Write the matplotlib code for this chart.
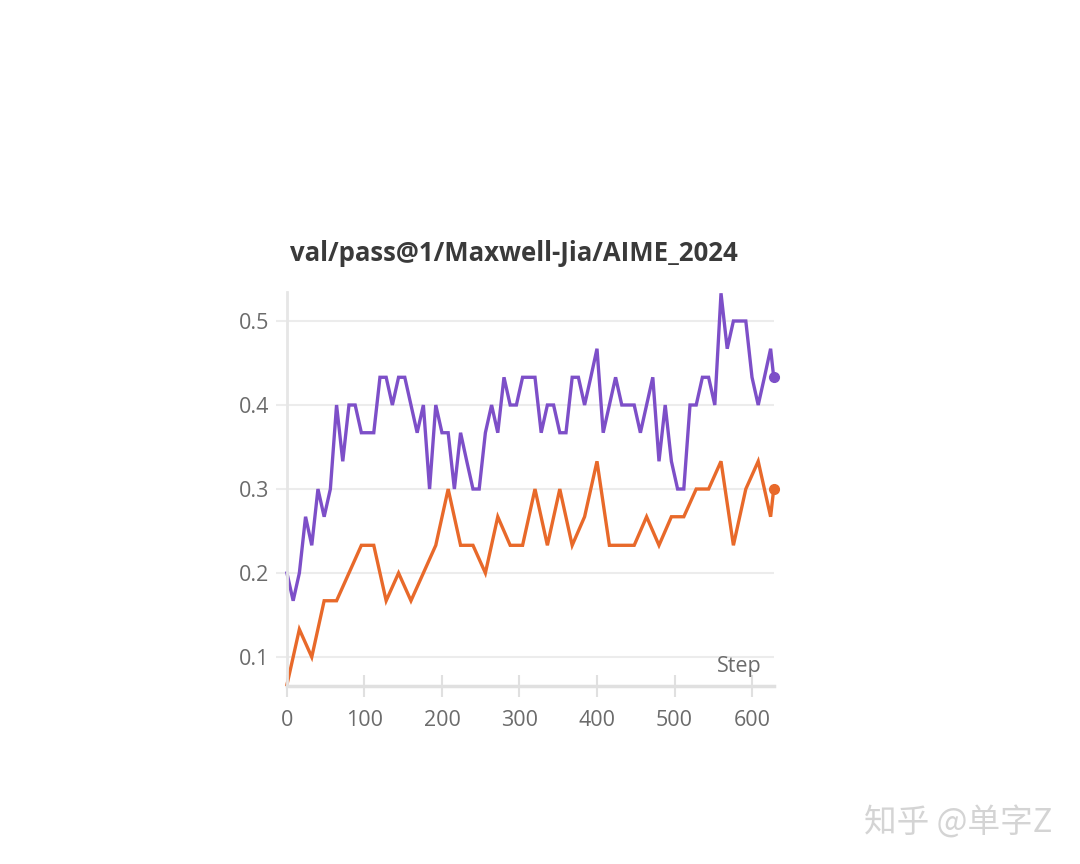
import matplotlib
matplotlib.use("Agg")
import matplotlib.pyplot as plt
import numpy as np

# purple run: eval every 8 steps, plus the last step
purple_steps = list(range(0, 625, 8)) + [628]
purple_vals = [0.200, 0.167, 0.200, 0.267, 0.233, 0.300, 0.267, 0.300, 0.400, 0.333,
               0.400, 0.400, 0.367, 0.367, 0.367, 0.433, 0.433, 0.400, 0.433, 0.433,
               0.400, 0.367, 0.400, 0.300, 0.400, 0.367, 0.367, 0.300, 0.367, 0.333,
               0.300, 0.300, 0.367, 0.400, 0.367, 0.433, 0.400, 0.400, 0.433, 0.433,
               0.433, 0.367, 0.400, 0.400, 0.367, 0.367, 0.433, 0.433, 0.400, 0.433,
               0.467, 0.367, 0.400, 0.433, 0.400, 0.400, 0.400, 0.367, 0.400, 0.433,
               0.333, 0.400, 0.333, 0.300, 0.300, 0.400, 0.400, 0.433, 0.433, 0.400,
               0.533, 0.467, 0.500, 0.500, 0.500, 0.433, 0.400, 0.433, 0.467, 0.433]

# orange run: eval every 16 steps, plus the last step
orange_steps = list(range(0, 625, 16)) + [628]
orange_vals = [0.067, 0.133, 0.100, 0.167, 0.167, 0.200, 0.233, 0.233, 0.167, 0.200,
               0.167, 0.200, 0.233, 0.300, 0.233, 0.233, 0.200, 0.267, 0.233, 0.233,
               0.300, 0.233, 0.300, 0.233, 0.267, 0.333, 0.233, 0.233, 0.233, 0.267,
               0.233, 0.267, 0.267, 0.300, 0.300, 0.333, 0.233, 0.300, 0.333, 0.267,
               0.300]

x_ticks = [0, 100, 200, 300, 400, 500, 600]
y_ticks = [0.1, 0.2, 0.3, 0.4, 0.5]

purple = "#7d4fc8"
orange = "#e8692a"
grid_c = "#ececec"
label_c = "#6b6b6b"

plt.rcParams['font.family'] = ['Open Sans', 'DejaVu Sans']

fig = plt.figure(figsize=(10.8, 8.64), dpi=100)
ax = fig.add_axes([0.2657, 0.206, 0.4507, 0.4565])

ax.plot(purple_steps, purple_vals, color=purple, lw=2.4, solid_joinstyle="miter", clip_on=False)
ax.plot(orange_steps, orange_vals, color=orange, lw=2.4, solid_joinstyle="miter", clip_on=False)
ax.plot(purple_steps[-1], purple_vals[-1], "o", color=purple, ms=7, clip_on=False)
ax.plot(orange_steps[-1], orange_vals[-1], "o", color=orange, ms=7, clip_on=False)

ax.set_xlim(0, 628)
ax.set_ylim(0.0655, 0.535)
ax.set_xticks(x_ticks)
ax.set_yticks(y_ticks)
ax.set_yticklabels(["0.1", "0.2", "0.3", "0.4", "0.5"])

ax.grid(axis="y", color=grid_c, lw=1.5)
ax.set_axisbelow(True)
for s in ["top", "right"]:
    ax.spines[s].set_visible(False)
ax.spines["left"].set_color("#e6e6e6")
ax.spines["left"].set_linewidth(2)
ax.spines["bottom"].set_color("#e0e0e0")
ax.spines["bottom"].set_linewidth(2.5)

ax.tick_params(axis="x", direction="inout", length=16, width=1.5, color="#e0e0e0",
               labelsize=15.5, labelcolor=label_c, pad=9)
ax.tick_params(axis="y", length=8, width=1.5, color=grid_c,
               labelsize=15.5, labelcolor=label_c, pad=5)

ax.text(0.975, 0.022, "Step", transform=ax.transAxes, ha="right", va="bottom",
        fontsize=15.5, color=label_c)

fig.text(0.476, 0.707, "val/pass@1/Maxwell-Jia/AIME_2024", ha="center", va="center",
         fontsize=18.5, fontweight="bold", color="#3a3a3a")

fig.text(0.80, 0.048, "知乎 @单字Z", ha="left", va="center", fontsize=23.5,
         color="#d4d4d4", family=["Noto Sans CJK SC", "DejaVu Sans"])

fig.savefig("out.png", dpi=100)
